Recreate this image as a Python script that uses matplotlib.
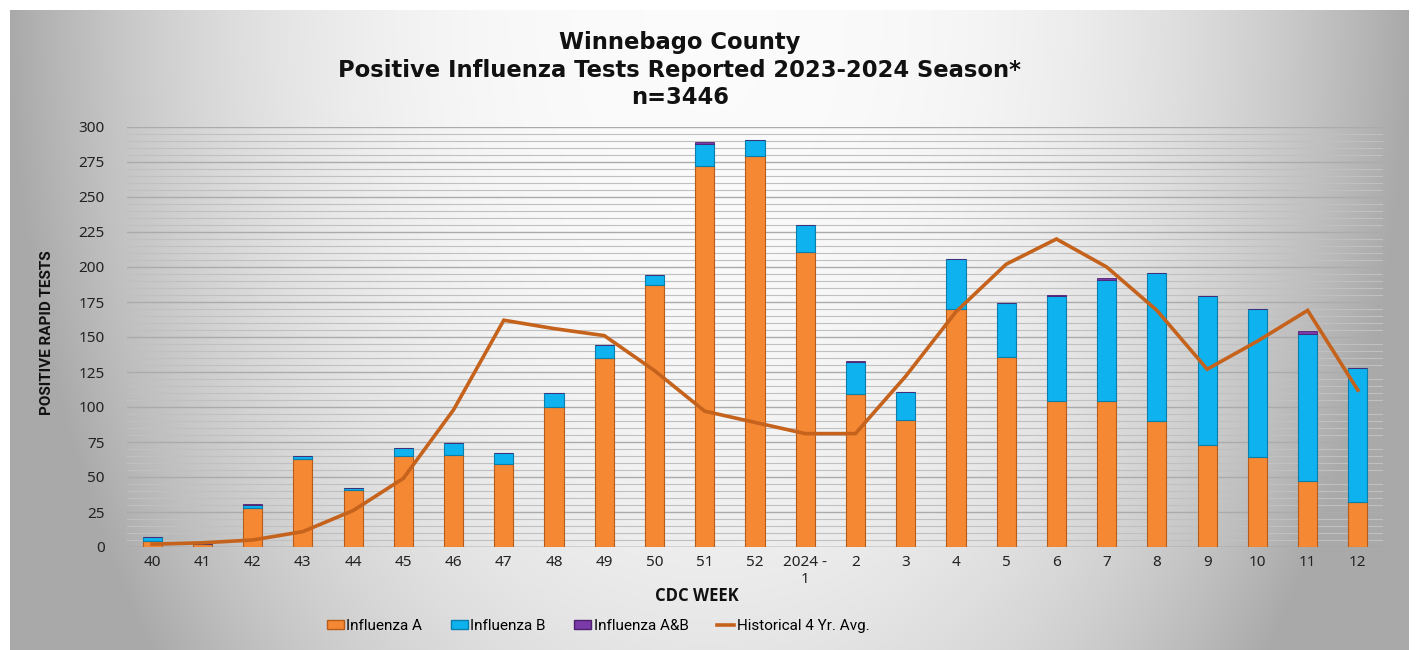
import numpy as np
import matplotlib
matplotlib.use("Agg")
import matplotlib.pyplot as plt
from matplotlib.patches import Patch
from matplotlib.lines import Line2D

plt.rcParams['font.family'] = ['Noto Sans', 'DejaVu Sans']

# ---- data ----
weeks = ['40', '41', '42', '43', '44', '45', '46', '47', '48', '49', '50', '51', '52',
         '2024 -\n1', '2', '3', '4', '5', '6', '7', '8', '9', '10', '11', '12']
flu_a = [4, 2, 28, 63, 41, 65, 66, 59, 100, 135, 187, 272, 279, 211, 109, 91, 170, 136,
         104, 104, 90, 73, 64, 47, 32]
flu_b = [3, 0, 2, 2, 1, 6, 8, 8, 10, 9, 7, 16, 12, 19, 23, 20, 36, 38, 75, 87, 106, 106,
         106, 105, 96]
flu_ab = [0, 0, 1, 0, 0, 0, 0, 0, 0, 0, 0, 1, 0, 0, 1, 0, 0, 0, 1, 1, 0, 0, 0, 2, 0]
hist_avg = [2, 3, 5, 11, 26, 49, 98, 162, 156, 151, 126, 97, 89, 81, 81, 122, 168, 202,
            220, 200, 169, 127, 147, 169, 112]
yticks = list(range(0, 301, 25))

title_lines = ["Winnebago County",
               "Positive Influenza Tests Reported 2023-2024 Season*",
               "n=3446"]
series_names = ['Influenza A', 'Influenza B', 'Influenza A&B', 'Historical 4 Yr. Avg.']

c_a, c_a_edge = '#F58833', '#B85C1C'
c_b, c_b_edge = '#0DB2EE', '#0A7FAE'
c_ab, c_ab_edge = '#7A3AA8', '#4E2070'
c_line = '#C5621C'

W, H = 1416, 650
fig = plt.figure(figsize=(W / 100, H / 100), dpi=100)
fig.patch.set_facecolor('white')

# ---- gradient background panel ----
bg = fig.add_axes([10 / W, 0, (1409 - 10) / W, (H - 10) / H], zorder=-5)
nx, ny = 400, 200
xx = np.linspace(-1, 1, nx)
yy = np.linspace(0, 1, ny)
X, Y = np.meshgrid(xx, yy)
d = np.clip((X ** 2 + (0.6 * Y) ** 2), 0, 1) ** 1.3
bright = 0.985 - 0.32 * d
img = np.dstack([bright, bright, bright])
bg.imshow(img, aspect='auto', extent=[0, 1, 0, 1], origin='upper', interpolation='bilinear')
bg.set_axis_off()

# ---- main axes ----
ax = fig.add_axes([127 / W, 103 / H, (1383 - 127) / W, (547 - 127) / H])
ax.set_facecolor('none')
x = np.arange(len(weeks))
bw = 0.38
a = np.array(flu_a)
b = np.array(flu_b)
ab = np.array(flu_ab)

ax.bar(x, a, bw, color=c_a, edgecolor=c_a_edge, linewidth=0.8, zorder=3)
ax.bar(x, b, bw, bottom=a, color=c_b, edgecolor=c_b_edge, linewidth=0.8, zorder=3)
ax.bar(x, ab, bw, bottom=a + b, color=c_ab, edgecolor=c_ab_edge, linewidth=0.6, zorder=3)
ax.plot(x, hist_avg, color=c_line, linewidth=2.6, zorder=5, solid_joinstyle='miter')

ax.set_xlim(-0.5, len(weeks) - 0.5)
ax.set_ylim(0, 300)
ax.set_yticks(yticks)
ax.set_yticks(np.arange(0, 301, 5), minor=True)
ax.grid(axis='y', which='major', color='#ababab', linewidth=1.0, zorder=0)
ax.grid(axis='y', which='minor', color='#c0c0c0', linewidth=0.8, zorder=0)
ax.set_xticks(x)
ax.set_xticklabels(weeks, linespacing=1.15)
ax.tick_params(axis='both', which='both', length=0)
ax.tick_params(axis='y', labelsize=11, labelcolor='#222222', pad=16)
ax.tick_params(axis='x', labelsize=11, labelcolor='#222222', pad=6)
for s in ax.spines.values():
    s.set_visible(False)
ax.axhline(0, color='#9a9a9a', linewidth=1.0, zorder=2)

fig.text(47 / W, 1 - 333 / H, 'POSITIVE RAPID TESTS', rotation=90, ha='center',
         va='center', fontsize=11, fontweight='bold', fontfamily='Roboto',
         color='#111111')

fig.text(697 / W, 1 - 596 / H, 'CDC WEEK', ha='center', va='center', fontsize=12,
         fontweight='bold', fontfamily='Open Sans', color='#111111')

for i, (line, yc) in enumerate(zip(title_lines, [42, 71, 98])):
    fig.text(680 / W, 1 - yc / H, line, ha='center', va='center', fontsize=16.3,
             fontweight='bold', fontfamily='DejaVu Sans', color='#111111')

handles = [Patch(facecolor=c_a, edgecolor=c_a_edge),
           Patch(facecolor=c_b, edgecolor=c_b_edge),
           Patch(facecolor=c_ab, edgecolor=c_ab_edge),
           Line2D([0], [0], color=c_line, linewidth=2.6)]
fig.legend(handles, series_names, loc='center', bbox_to_anchor=(598 / W, 24 / H),
           ncol=4, frameon=False, prop={'family': 'Roboto', 'size': 11},
           handlelength=1.1, handleheight=0.6, handletextpad=0.15, columnspacing=1.9)

fig.savefig('out.png', dpi=100, facecolor=fig.get_facecolor())
